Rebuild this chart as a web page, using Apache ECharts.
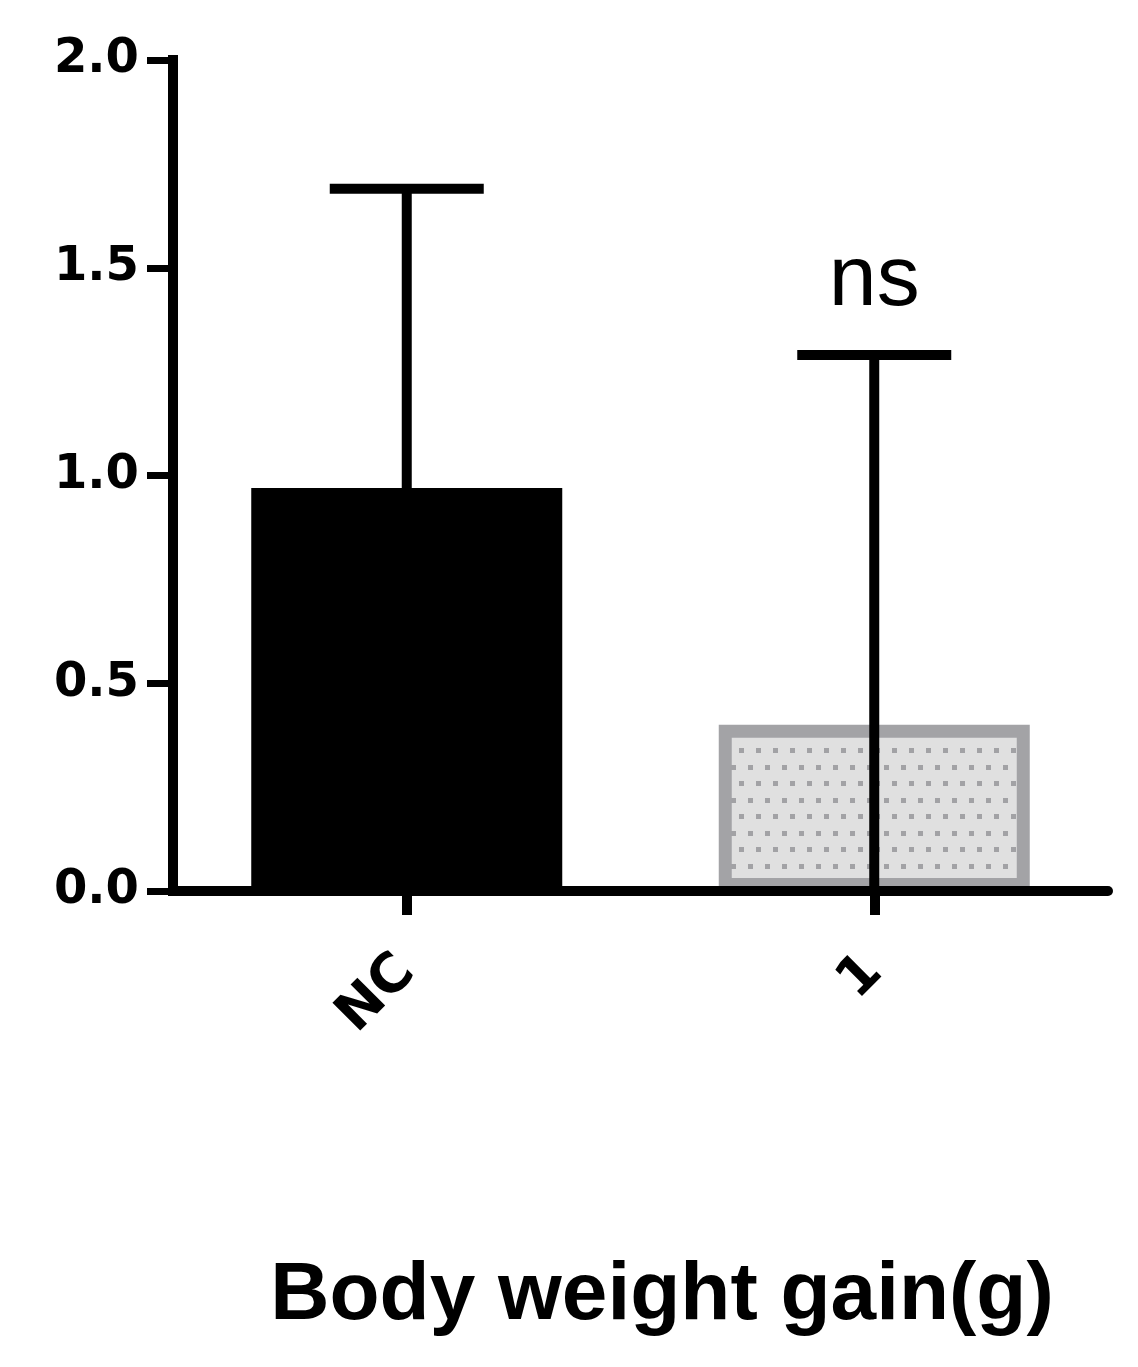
<!DOCTYPE html>
<html>
<head>
<meta charset="utf-8">
<script src="https://cdn.jsdelivr.net/npm/echarts@6/dist/echarts.min.js"></script>
<style>
  html, body { margin: 0; padding: 0; background: #fff; }
  #chart { width: 1138px; height: 1367px; }
</style>
</head>
<body>
<div id="chart"></div>
<script>
// ---- data ----
const categories = ['NC', '1'];
const means = [0.97, 0.40];
const upperErr = [1.69, 1.29];      // mean + SD (top of error bar)
const sigLabels = ['', 'ns'];
const yTickValues = [0, 0.5, 1.0, 1.5, 2.0];
const axisTitle = 'Body weight gain(g)';

// ---- dotted pattern for the second bar ----
const tile = document.createElement('canvas');
tile.width = 17; tile.height = 33;
const tctx = tile.getContext('2d');
tctx.fillStyle = '#e0e0e0';
tctx.fillRect(0, 0, 17, 33);
tctx.fillStyle = '#a2a2a5';
tctx.fillRect(8, 22, 5, 5);
tctx.fillRect(0, 6, 5, 5);

const barStyles = [
  { color: '#000000', borderColor: '#000000', borderWidth: 13 },
  { color: { image: tile, repeat: 'repeat' }, borderColor: '#a3a3a6', borderWidth: 13 }
];

const barData = means.map((v, i) => ({ value: v, itemStyle: barStyles[i] }));
const errData = means.map((m, i) => {
  const sd = upperErr[i] - m;
  return [i, m, upperErr[i], Math.max(0, m - sd)];
});

const chart = echarts.init(document.getElementById('chart'), null, { renderer: 'canvas' });

const option = {
  animation: false,
  backgroundColor: '#ffffff',
  grid: { left: 173, right: 30, top: 60, bottom: 476, containLabel: false },
  xAxis: {
    type: 'category',
    data: categories,
    z: 10,
    axisLine: { show: true, lineStyle: { color: '#000', width: 10 } },
    axisTick: { show: true, alignWithLabel: true, length: 24, lineStyle: { color: '#000', width: 10 } },
    axisLabel: {
      rotate: 45, margin: 73, color: '#000',
      fontFamily: 'DejaVu Sans', fontWeight: 'bold', fontSize: 54
    },
    splitLine: { show: false }
  },
  yAxis: {
    type: 'value',
    min: yTickValues[0],
    max: yTickValues[yTickValues.length - 1],
    interval: 0.5,
    z: 10,
    axisLine: { show: true, lineStyle: { color: '#000', width: 10, cap: 'square' } },
    axisTick: { show: true, length: 26, lineStyle: { color: '#000', width: 7 } },
    axisLabel: {
      margin: 34, color: '#000',
      fontFamily: 'DejaVu Sans', fontWeight: 'bold', fontSize: 48,
      formatter: v => v.toFixed(1)
    },
    splitLine: { show: false }
  },
  graphic: [{
    type: 'text',
    x: 662, y: 1296,
    style: {
      text: axisTitle,
      font: 'bold 82px "Liberation Sans", Arial, sans-serif',
      fill: '#000',
      align: 'center',
      verticalAlign: 'middle'
    }
  }],
  series: [
    {
      type: 'bar',
      data: barData,
      barWidth: 311,
      z: 2
    },
    {
      type: 'custom',
      z: 5,
      data: errData,
      renderItem: function (params, api) {
        const idx = api.value(0);
        const top = api.coord([idx, api.value(2)]);
        const low = api.coord([idx, api.value(3)]);
        const half = 77;
        const children = [
          { type: 'line', shape: { x1: top[0], y1: low[1], x2: top[0], y2: top[1] },
            style: { stroke: '#000', lineWidth: 10 } },
          { type: 'line', shape: { x1: top[0] - half, y1: top[1], x2: top[0] + half, y2: top[1] },
            style: { stroke: '#000', lineWidth: 10 } }
        ];
        const lbl = sigLabels[idx];
        if (lbl) {
          children.push({
            type: 'text', x: top[0], y: top[1] - 74,
            style: { text: lbl, font: 'normal 86px "Liberation Sans", Arial, sans-serif',
                     fill: '#000', align: 'center', verticalAlign: 'middle' }
          });
        }
        return { type: 'group', children: children };
      }
    }
  ]
};
chart.setOption(option);
</script>
</body>
</html>
